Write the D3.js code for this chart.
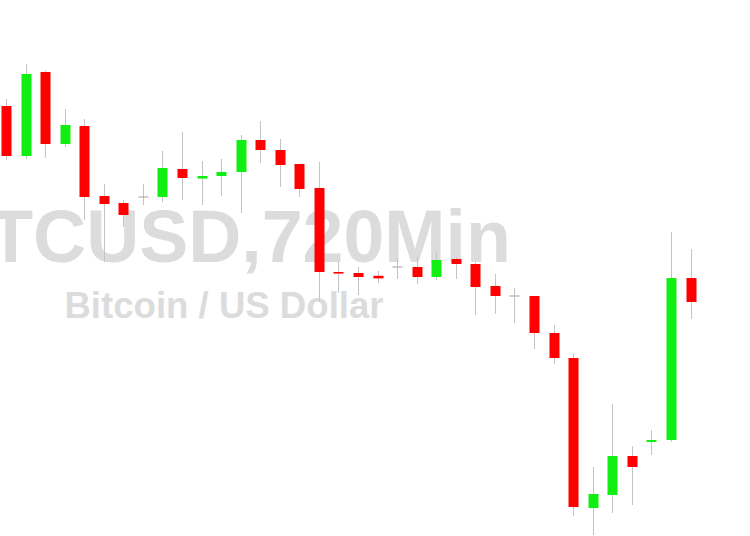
<!DOCTYPE html>
<html>
<head>
<meta charset="utf-8">
<script src="https://cdn.jsdelivr.net/npm/d3@7"></script>
<style>
  html, body { margin: 0; padding: 0; background: #ffffff; overflow: hidden; }
  svg { display: block; }
</style>
</head>
<body>
<svg id="chart" width="750" height="536"></svg>
<script>
// 12-hour (720 min) candles
const categories = [
  "02-10 00:00","02-10 12:00","02-11 00:00","02-11 12:00","02-12 00:00","02-12 12:00",
  "02-13 00:00","02-13 12:00","02-14 00:00","02-14 12:00","02-15 00:00","02-15 12:00",
  "02-16 00:00","02-16 12:00","02-17 00:00","02-17 12:00","02-18 00:00","02-18 12:00",
  "02-19 00:00","02-19 12:00","02-20 00:00","02-20 12:00","02-21 00:00","02-21 12:00",
  "02-22 00:00","02-22 12:00","02-23 00:00","02-23 12:00","02-24 00:00","02-24 12:00",
  "02-25 00:00","02-25 12:00","02-26 00:00","02-26 12:00","02-27 00:00","02-27 12:00"
];
const openValues  = [9790,9540,9960,9600,9690,9340,9305,9335,9335,9475,9427,9440,9460,9620,9570,9500,9380,8960,8955,8941,8985,8985,8935,9025,9000,8890,8840,8840,8655,8530,7780,7845,8040,8110,8120,8930];
const highValues  = [9825,10000,9968,9775,9725,9400,9320,9400,9565,9660,9515,9525,9645,9715,9625,9500,9510,9015,8985,8965,9030,9035,9060,9035,9010,8950,8880,8840,8695,8550,7985,8300,8090,8170,9160,9075];
const lowValues   = [9520,9525,9530,9585,9220,9010,9185,9295,9310,9320,9295,9340,9255,9505,9385,9335,8810,8855,8845,8905,8925,8900,8920,8925,8745,8750,8705,8575,8500,7740,7645,7755,7795,8045,8110,8725];
const closeValues = [9540,9950,9600,9695,9335,9300,9245,9335,9480,9430,9440,9460,9620,9570,9495,9375,8960,8952,8935,8928,8985,8935,9020,9000,8885,8840,8840,8655,8530,7785,7850,8040,7985,8120,8930,8810];
const watermarkTitle = "BTCUSD,720Min";
const watermarkSubtitle = "Bitcoin / US Dollar";

const candles = categories.map((c, i) => ({
  t: c, o: openValues[i], h: highValues[i], l: lowValues[i], c: closeValues[i]
}));

const svg = d3.select("#chart");
svg.append("rect").attr("width", 750).attr("height", 536).attr("fill", "#ffffff");

// watermark (cropped at the left edge, as in the original)
const wm = svg.append("g").attr("font-family", "'Liberation Sans', Arial, sans-serif")
  .attr("font-weight", "bold").attr("fill", "#dcdcdc").attr("text-anchor", "middle");
wm.append("text").attr("x", 223).attr("y", 262).attr("font-size", 73.5).text(watermarkTitle);
wm.append("text").attr("x", 224).attr("y", 318).attr("font-size", 36.6).text(watermarkSubtitle);

const x = d3.scaleBand().domain(categories).range([-3.78, 700.28])
  .paddingInner(0.49).paddingOuter(0.245);
const y = d3.scaleLinear().domain([7645, 10000]).range([535, 64]);

const up = "#11ee11", down = "#ff0000", wickColor = "#c4c4c4";

const g = svg.append("g");
// wicks
g.selectAll("line.wick").data(candles).enter().append("line")
  .attr("class", "wick")
  .attr("x1", d => Math.round(x(d.t) + x.bandwidth() / 2) + 0.5)
  .attr("x2", d => Math.round(x(d.t) + x.bandwidth() / 2) + 0.5)
  .attr("y1", d => y(d.h))
  .attr("y2", d => y(d.l))
  .attr("stroke", wickColor).attr("stroke-width", 1);

// bodies
g.selectAll("rect.body").data(candles).enter().append("rect")
  .attr("class", "body")
  .attr("x", d => Math.round(x(d.t)) + 0.5)
  .attr("width", Math.round(x.bandwidth()))
  .attr("y", d => Math.min(y(d.o), y(d.c)) - (d.o === d.c ? 0.5 : 0))
  .attr("height", d => Math.max(1, Math.abs(y(d.o) - y(d.c))))
  .attr("fill", d => d.o === d.c ? "#b89a9a" : (d.c > d.o ? up : down));
</script>
</body>
</html>
